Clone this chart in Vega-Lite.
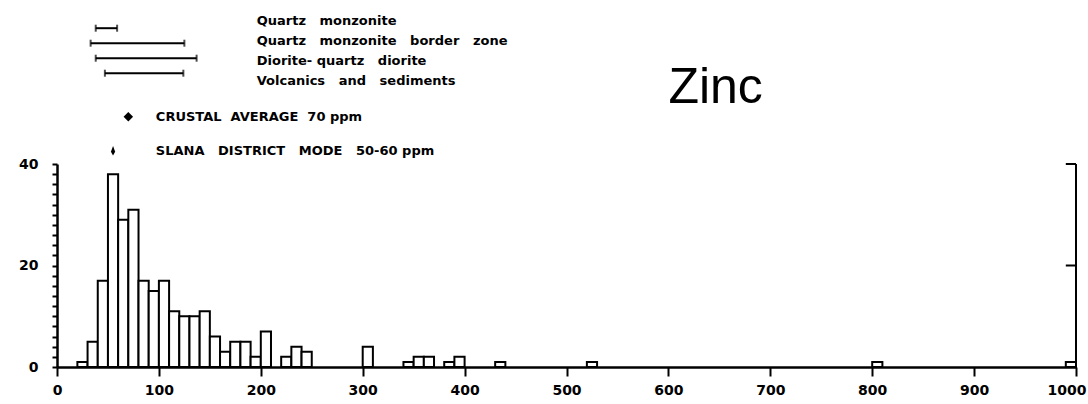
{
  "$schema": "https://vega.github.io/schema/vega-lite/v6.json",
  "width": 1019,
  "height": 203,
  "autosize": {"type": "none"},
  "padding": {"left": 57, "top": 164, "right": 12, "bottom": 37},
  "background": "white",
  "config": {
    "view": {"stroke": null},
    "font": "DejaVu Sans",
    "axis": {"domainColor": "black", "tickColor": "black", "labelColor": "black", "grid": false}
  },
  "datasets": {
    "hist": [
      {"bin_start": 20, "bin_end": 30, "count": 1},
      {"bin_start": 30, "bin_end": 40, "count": 5},
      {"bin_start": 40, "bin_end": 50, "count": 17},
      {"bin_start": 50, "bin_end": 60, "count": 38},
      {"bin_start": 60, "bin_end": 70, "count": 29},
      {"bin_start": 70, "bin_end": 80, "count": 31},
      {"bin_start": 80, "bin_end": 90, "count": 17},
      {"bin_start": 90, "bin_end": 100, "count": 15},
      {"bin_start": 100, "bin_end": 110, "count": 17},
      {"bin_start": 110, "bin_end": 120, "count": 11},
      {"bin_start": 120, "bin_end": 130, "count": 10},
      {"bin_start": 130, "bin_end": 140, "count": 10},
      {"bin_start": 140, "bin_end": 150, "count": 11},
      {"bin_start": 150, "bin_end": 160, "count": 6},
      {"bin_start": 160, "bin_end": 170, "count": 3},
      {"bin_start": 170, "bin_end": 180, "count": 5},
      {"bin_start": 180, "bin_end": 190, "count": 5},
      {"bin_start": 190, "bin_end": 200, "count": 2},
      {"bin_start": 200, "bin_end": 210, "count": 7},
      {"bin_start": 220, "bin_end": 230, "count": 2},
      {"bin_start": 230, "bin_end": 240, "count": 4},
      {"bin_start": 240, "bin_end": 250, "count": 3},
      {"bin_start": 300, "bin_end": 310, "count": 4},
      {"bin_start": 340, "bin_end": 350, "count": 1},
      {"bin_start": 350, "bin_end": 360, "count": 2},
      {"bin_start": 360, "bin_end": 370, "count": 2},
      {"bin_start": 380, "bin_end": 390, "count": 1},
      {"bin_start": 390, "bin_end": 400, "count": 2},
      {"bin_start": 430, "bin_end": 440, "count": 1},
      {"bin_start": 520, "bin_end": 530, "count": 1},
      {"bin_start": 800, "bin_end": 810, "count": 1},
      {"bin_start": 990, "bin_end": 1000, "count": 1}
    ],
    "ranges": [
      {"rock": "Quartz\u00a0\u00a0\u00a0monzonite", "lo": 38, "hi": 59},
      {"rock": "Quartz\u00a0\u00a0\u00a0monzonite\u00a0\u00a0\u00a0border\u00a0\u00a0\u00a0zone", "lo": 33, "hi": 125},
      {"rock": "Diorite-\u00a0quartz\u00a0\u00a0\u00a0diorite", "lo": 38, "hi": 137},
      {"rock": "Volcanics\u00a0\u00a0\u00a0and\u00a0\u00a0\u00a0sediments", "lo": 47, "hi": 124}
    ],
    "markers": [
      {"marker": "CRUSTAL\u00a0\u00a0AVERAGE\u00a0\u00a070\u00a0ppm", "ppm": 70},
      {"marker": "SLANA\u00a0\u00a0\u00a0DISTRICT\u00a0\u00a0\u00a0MODE\u00a0\u00a0\u00a050-60\u00a0ppm", "ppm": 55}
    ],
    "title": [{"element": "Zinc"}],
    "rightticks": [{"v": 20}, {"v": 40}]
  },
  "layer": [
    {
      "data": {"name": "hist"},
      "mark": {"type": "bar", "fill": "white", "stroke": "black", "strokeWidth": 2, "orient": "vertical"},
      "encoding": {
        "x": {
          "field": "bin_start", "type": "quantitative",
          "scale": {"domain": [0, 1000], "nice": false, "zero": false, "padding": 0},
          "axis": {
            "orient": "bottom",
            "values": [0, 100, 200, 300, 400, 500, 600, 700, 800, 900, 1000],
            "format": "d",
            "title": null, "tickSize": 9, "tickWidth": 2, "domainWidth": 2.5,
            "labelPadding": 7, "labelFontSize": 14, "labelFontWeight": "bold",
            "labelFlush": false, "labelOverlap": false, "labelBound": false, "zindex": 1,
            "labelAlign": {"condition": {"test": "datum.value === 1000", "value": "right"}, "value": "center"},
            "labelOffset": {"condition": {"test": "datum.value === 1000", "value": 10}, "value": 0}
          }
        },
        "x2": {"field": "bin_end"},
        "y": {
          "field": "count", "type": "quantitative",
          "scale": {"domain": [0, 40], "nice": false},
          "axis": {
            "values": [0, 2, 4, 6, 8, 10, 12, 14, 16, 18, 20, 22, 24, 26, 28, 30, 32, 34, 36, 38, 40],
            "labelExpr": "datum.value % 20 === 0 ? datum.label : ''",
            "tickSize": 5,
            "title": null, "tickWidth": 2, "domainWidth": 2.5,
            "labelPadding": 14, "labelFontSize": 14, "labelFontWeight": "bold",
            "labelFlush": false, "labelOverlap": false, "zindex": 1
          }
        },
        "y2": {"datum": 0}
      }
    },
    {
      "data": {"name": "title"},
      "mark": {"type": "text", "align": "left", "baseline": "middle", "font": "Liberation Sans", "fontSize": 50, "color": "black"},
      "encoding": {
        "x": {"datum": 600, "type": "quantitative"},
        "y": {"datum": 55, "type": "quantitative", "scale": {"domain": [0, 40], "nice": false}, "axis": null},
        "text": {"field": "element"}
      }
    },
    {
      "data": {"name": "title"},
      "mark": {"type": "rule", "color": "black", "strokeWidth": 2},
      "encoding": {
        "x": {"datum": 1000, "type": "quantitative"},
        "y": {"datum": 0, "type": "quantitative", "scale": {"domain": [0, 40], "nice": false}, "axis": null},
        "y2": {"datum": 40}
      }
    },
    {
      "data": {"name": "rightticks"},
      "mark": {"type": "rule", "color": "black", "strokeWidth": 2},
      "encoding": {
        "x": {"datum": 990, "type": "quantitative"},
        "x2": {"datum": 1000},
        "y": {"field": "v", "type": "quantitative", "scale": {"domain": [0, 40], "nice": false}, "axis": null}
      }
    },
    {
      "data": {"name": "ranges"},
      "mark": {"type": "rule", "color": "black", "strokeWidth": 2},
      "encoding": {
        "x": {"field": "lo", "type": "quantitative"},
        "x2": {"field": "hi"},
        "y": {"field": "rock", "type": "nominal", "sort": null, "axis": null, "scale": {"range": [-143.3, -83.3], "padding": 0}}
      }
    },
    {
      "data": {"name": "ranges"},
      "mark": {"type": "tick", "color": "black", "thickness": 2, "size": 7, "orient": "vertical"},
      "encoding": {
        "x": {"field": "lo", "type": "quantitative"},
        "y": {"field": "rock", "type": "nominal", "sort": null, "axis": null, "scale": {"range": [-143.3, -83.3], "padding": 0}}
      }
    },
    {
      "data": {"name": "ranges"},
      "mark": {"type": "tick", "color": "black", "thickness": 2, "size": 7, "orient": "vertical"},
      "encoding": {
        "x": {"field": "hi", "type": "quantitative"},
        "y": {"field": "rock", "type": "nominal", "sort": null, "axis": null, "scale": {"range": [-143.3, -83.3], "padding": 0}}
      }
    },
    {
      "data": {"name": "ranges"},
      "mark": {"type": "text", "align": "left", "baseline": "middle", "fontSize": 13, "fontWeight": "bold", "color": "black"},
      "encoding": {
        "x": {"datum": 196, "type": "quantitative"},
        "y": {"field": "rock", "type": "nominal", "sort": null, "axis": null, "scale": {"range": [-143.3, -83.3], "padding": 0}},
        "text": {"field": "rock"}
      }
    },
    {
      "data": {"name": "markers"},
      "mark": {"type": "point", "filled": true, "color": "black", "opacity": 1},
      "encoding": {
        "x": {"field": "ppm", "type": "quantitative"},
        "y": {"field": "marker", "type": "nominal", "sort": null, "axis": null, "scale": {"range": [-47.3, -13.3], "padding": 0}},
        "shape": {
          "field": "marker", "type": "nominal", "legend": null, "sort": null,
          "scale": {"range": ["diamond", "M0,-1L0.45,0.2L0,1L-0.45,0.2Z"]}
        },
        "size": {"value": 90}
      }
    },
    {
      "data": {"name": "markers"},
      "mark": {"type": "text", "align": "left", "baseline": "middle", "fontSize": 13, "fontWeight": "bold", "color": "black"},
      "encoding": {
        "x": {"datum": 97, "type": "quantitative"},
        "y": {"field": "marker", "type": "nominal", "sort": null, "axis": null, "scale": {"range": [-47.3, -13.3], "padding": 0}},
        "text": {"field": "marker"}
      }
    }
  ],
  "resolve": {"scale": {"y": "independent"}}
}
